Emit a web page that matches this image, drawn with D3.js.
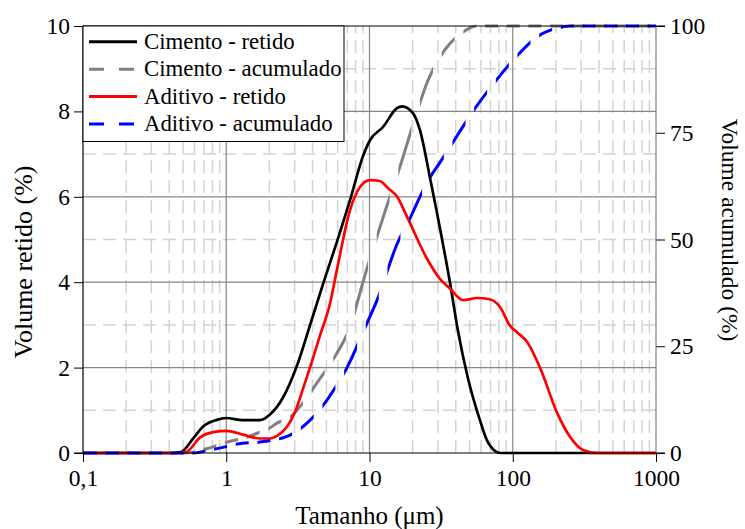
<!DOCTYPE html>
<html>
<head>
<meta charset="utf-8">
<script src="https://cdn.jsdelivr.net/npm/d3@7"></script>
<style>
  body { margin: 0; background: #fff; }
  svg { display: block; font-family: "Liberation Serif", "Times New Roman", serif; }
</style>
</head>
<body>
<div id="chart"></div>
<script>
// particle size (um) vs volume
var cimentoRetidoSize = [0.1, 0.40, 0.48, 0.59, 0.69, 0.85, 1.0, 1.3, 1.72, 2.02, 2.49, 3.12, 3.85, 4.73, 5.93, 7.31, 9.0, 10.1, 12.4, 15.6, 16.9, 20.1, 22.5, 26.4, 29.6, 36.5, 41.5, 49, 59, 66, 75, 82, 1000];
var cimentoRetido = [0, 0, 0.02, 0.35, 0.62, 0.77, 0.82, 0.77, 0.77, 0.9, 1.3, 2.05, 3.0, 3.95, 4.95, 5.92, 6.95, 7.33, 7.63, 8.08, 8.12, 7.96, 7.56, 6.46, 5.62, 3.98, 2.85, 1.71, 0.77, 0.3, 0.05, 0, 0];

var cimentoAcumSize = [0.1, 0.45, 0.59, 0.66, 0.77, 1.0, 1.40, 1.72, 2.02, 2.26, 2.79, 3.43, 4.30, 5.93, 7.31, 8.31, 9.0, 12.4, 16.3, 22.5, 25.2, 31.0, 45, 56, 1000];
var cimentoAcum = [0, 0, 0.2, 0.7, 1.2, 2.5, 3.7, 4.9, 5.9, 7.0, 8.4, 11.7, 16.4, 23.4, 29.5, 35.8, 40, 55, 67, 82, 86.7, 92.7, 98.6, 100, 100];

var aditivoRetidoSize = [0.1, 0.47, 0.53, 0.66, 0.81, 1.0, 1.31, 1.72, 2.02, 2.26, 2.66, 2.92, 3.12, 3.43, 3.85, 4.51, 5.30, 5.93, 7.31, 8.59, 10.1, 11.8, 13.5, 15.6, 18.3, 25.2, 31.0, 36.5, 45.0, 56.3, 69, 81.5, 95.7, 107, 126, 155, 204, 251, 309, 387, 1000];
var aditivoRetido = [0, 0, 0.03, 0.37, 0.49, 0.52, 0.43, 0.34, 0.34, 0.4, 0.62, 0.85, 1.08, 1.5, 2.01, 2.75, 3.5, 4.3, 5.69, 6.23, 6.39, 6.37, 6.2, 6.0, 5.53, 4.55, 4.08, 3.85, 3.58, 3.63, 3.6, 3.42, 2.98, 2.83, 2.6, 2.0, 0.94, 0.38, 0.07, 0, 0];

var aditivoAcumSize = [0.1, 0.59, 0.77, 1.0, 1.19, 1.72, 2.26, 2.79, 3.66, 5.05, 6.97, 9.6, 11.3, 15.6, 19.2, 22.5, 26.4, 31, 45, 50.3, 77.6, 107, 148, 204, 251, 1000];
var aditivoAcum = [0, 0, 0.7, 1.5, 2.1, 2.6, 3.2, 4.2, 7.0, 12.4, 20, 30.4, 35.8, 49, 55, 60, 64.5, 68, 76.5, 79, 87.5, 93, 97.5, 99.5, 100, 100];

var xTicks = [0.1, 1, 10, 100, 1000];
var xTickLabels = ["0,1", "1", "10", "100", "1000"];
var leftTicks = [0, 2, 4, 6, 8, 10];
var rightTicks = [0, 25, 50, 75, 100];
var legendLabels = ["Cimento - retido", "Cimento - acumulado", "Aditivo - retido", "Aditivo - acumulado"];

var svgWidth = 745;
var svgHeight = 529;
var margin = { top: 26, right: 89, bottom: 76, left: 83 };

var svg = d3.select("#chart")
  .append("svg")
  .attr("width", svgWidth)
  .attr("height", svgHeight);

svg.append("rect").attr("width", svgWidth).attr("height", svgHeight).attr("fill", "#fff");

var defs = svg.append("defs");

var x = d3.scaleLog().domain([0.1, 1000]).range([margin.left, svgWidth - margin.right]);
var yLeft = d3.scaleLinear().domain([0, 10]).range([svgHeight - margin.bottom, margin.top]);
var yRight = d3.scaleLinear().domain([0, 100]).range([svgHeight - margin.bottom, margin.top]);

var x0 = x.range()[0], x1 = x.range()[1];
var yB = yLeft.range()[0], yT = yLeft.range()[1];

// grid
var grid = svg.append("g");
var minorX = [];
[0.1, 1, 10, 100].forEach(function(d) {
  for (var k = 2; k < 10; k++) minorX.push(d * k);
});

grid.selectAll(".vminor").data(minorX).enter().append("line")
  .attr("x1", d => x(d)).attr("x2", d => x(d))
  .attr("y1", yB).attr("y2", yT)
  .attr("stroke", "#d3d3d3").attr("stroke-width", 1.5)
  .attr("stroke-dasharray", "13,7");

grid.selectAll(".hminor").data([1, 3, 5, 7, 9]).enter().append("line")
  .attr("x1", x0).attr("x2", x1)
  .attr("y1", d => yLeft(d)).attr("y2", d => yLeft(d))
  .attr("stroke", "#d3d3d3").attr("stroke-width", 1.5)
  .attr("stroke-dasharray", "13,7");

grid.selectAll(".vmajor").data([1, 10, 100]).enter().append("line")
  .attr("x1", d => x(d)).attr("x2", d => x(d))
  .attr("y1", yB).attr("y2", yT)
  .attr("stroke", "#868686").attr("stroke-width", 1.2);

grid.selectAll(".hmajor").data([2, 4, 6, 8]).enter().append("line")
  .attr("x1", x0).attr("x2", x1)
  .attr("y1", d => yLeft(d)).attr("y2", d => yLeft(d))
  .attr("stroke", "#868686").attr("stroke-width", 1.2);

// dashes for the cumulative curves: strips evenly spaced along x
var dashPeriod = (x(10) - x(1)) * 0.1513;
var dashLen = 13;
function dashClip(id, anchor) {
  var start = x(anchor);
  while (start > x0 - dashPeriod) start -= dashPeriod;
  var starts = d3.range(start, x1 + 1, dashPeriod);
  defs.append("clipPath").attr("id", id)
    .selectAll("rect").data(starts).enter().append("rect")
    .attr("x", d => d).attr("y", 0)
    .attr("width", dashLen).attr("height", svgHeight);
}
dashClip("dashGray", 7.92);
dashClip("dashBlue", 9.42);

function makeLine(yScale) {
  return d3.line()
    .x(d => x(d[0]))
    .y(d => yScale(d[1]))
    .curve(d3.curveMonotoneX);
}

var series = [
  { size: cimentoRetidoSize, vals: cimentoRetido, y: yLeft, color: "#000000", clip: null },
  { size: cimentoAcumSize, vals: cimentoAcum, y: yRight, color: "#808080", clip: "dashGray" },
  { size: aditivoRetidoSize, vals: aditivoRetido, y: yLeft, color: "#ff0000", clip: null },
  { size: aditivoAcumSize, vals: aditivoAcum, y: yRight, color: "#0000ff", clip: "dashBlue" }
];

series.forEach(function(s) {
  var pts = s.size.map((d, i) => [d, s.vals[i]]);
  var p = svg.append("path")
    .attr("d", makeLine(s.y)(pts))
    .attr("fill", "none")
    .attr("stroke", s.color)
    .attr("stroke-width", s.clip ? 3 : 2.7);
  if (s.clip) p.attr("clip-path", "url(#" + s.clip + ")");
});

// axes
var leftAxis = d3.axisLeft(yLeft).tickValues(leftTicks).tickSize(9).tickPadding(4);
var rightAxis = d3.axisRight(yRight).tickValues(rightTicks).tickSize(9).tickPadding(5);
var bottomAxis = d3.axisBottom(x).tickValues(xTicks)
  .tickFormat((d, i) => xTickLabels[i]).tickSize(9).tickPadding(7);

var gl = svg.append("g").attr("transform", `translate(${x0}, 0)`).call(leftAxis);
var gr = svg.append("g").attr("transform", `translate(${x1}, 0)`).call(rightAxis);
var gb = svg.append("g").attr("transform", `translate(0, ${yB})`).call(bottomAxis);

[gl, gr, gb].forEach(function(g) {
  g.select(".domain").remove();
  g.selectAll(".tick line").attr("stroke", "#000").attr("stroke-width", 1);
  g.selectAll(".tick text")
    .attr("fill", "#000")
    .style("font-family", "'Liberation Serif', serif")
    .style("font-size", "23.5px");
});

// frame
svg.append("line").attr("x1", x1).attr("x2", x1).attr("y1", yT).attr("y2", yB)
  .attr("stroke", "#7f7f7f").attr("stroke-width", 1.2);
svg.append("line").attr("x1", x0).attr("x2", x1 + 9).attr("y1", yT).attr("y2", yT)
  .attr("stroke", "#000").attr("stroke-width", 1.2);
svg.append("line").attr("x1", x0).attr("x2", x0).attr("y1", yT).attr("y2", yB)
  .attr("stroke", "#000").attr("stroke-width", 1.2);
svg.append("line").attr("x1", x0 - 9).attr("x2", x1 + 9).attr("y1", yB).attr("y2", yB)
  .attr("stroke", "#000").attr("stroke-width", 1.2);

// axis titles
svg.append("text")
  .attr("x", (x0 + x1) / 2).attr("y", 524)
  .attr("text-anchor", "middle")
  .style("font-size", "25px")
  .text("Tamanho (\u03bcm)");

svg.append("text")
  .attr("transform", "translate(31.5, 262) rotate(-90)")
  .attr("text-anchor", "middle")
  .style("font-size", "26px")
  .text("Volume retido (%)");

svg.append("text")
  .attr("transform", "translate(722, 230) rotate(90)")
  .attr("text-anchor", "middle")
  .style("font-size", "23.5px")
  .text("Volume acumulado (%)");

// legend
var legend = svg.append("g");
legend.append("rect")
  .attr("x", x0).attr("y", yT)
  .attr("width", 261).attr("height", 115.5)
  .attr("fill", "#fff").attr("stroke", "#000").attr("stroke-width", 1);

var legendY = [41.7, 69.3, 96.6, 124];
legendLabels.forEach(function(label, i) {
  var s = series[i];
  legend.append("line")
    .attr("x1", 89).attr("x2", 137)
    .attr("y1", legendY[i]).attr("y2", legendY[i])
    .attr("stroke", s.color)
    .attr("stroke-width", 3)
    .attr("stroke-dasharray", s.clip ? "15,15" : null);
  legend.append("text")
    .attr("x", 144).attr("y", legendY[i] + 7)
    .style("font-size", "22.8px")
    .text(label);
});
</script>
</body>
</html>
